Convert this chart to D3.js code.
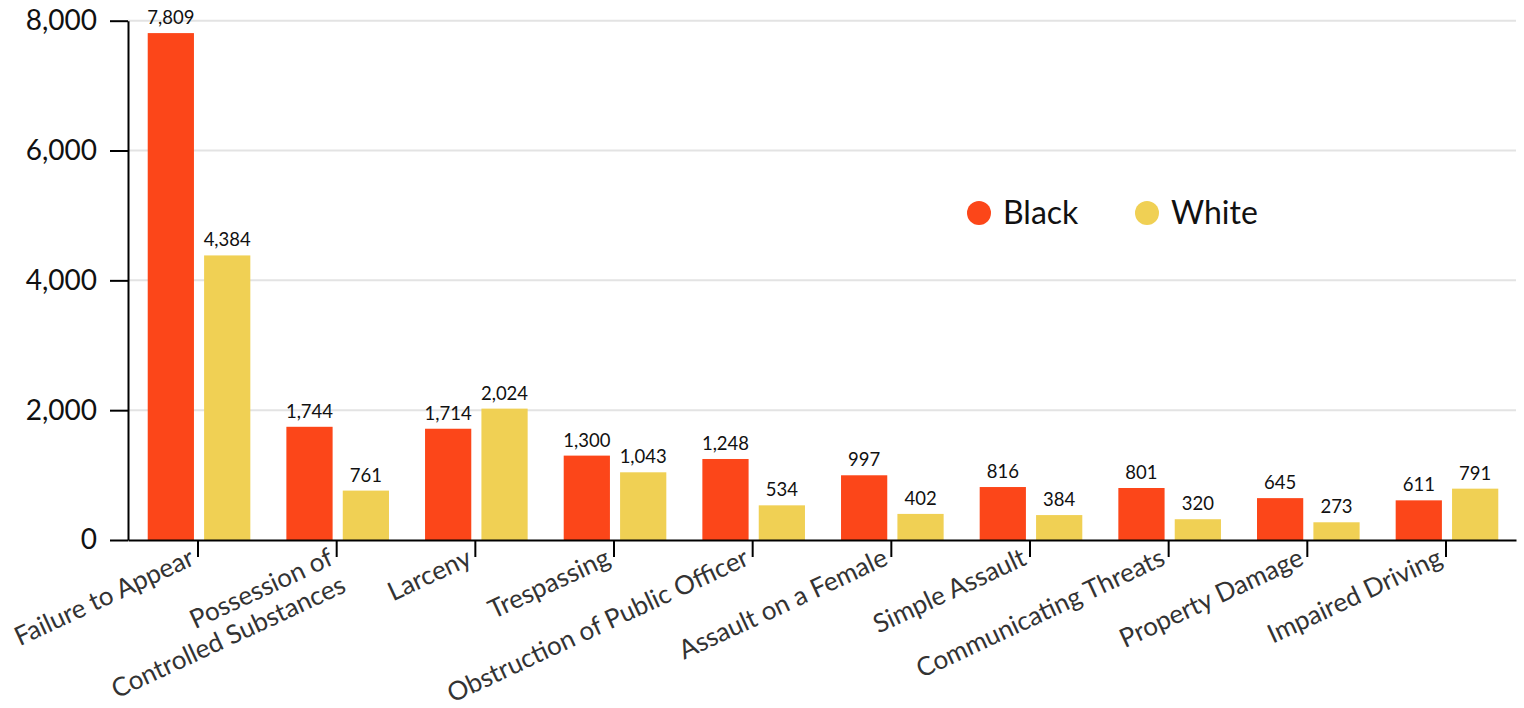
<!DOCTYPE html>
<html>
<head>
<meta charset="utf-8">
<script src="https://cdn.jsdelivr.net/npm/d3@7"></script>
<style>
  html, body { margin: 0; padding: 0; background: #fff; }
  svg { display: block; font-family: "Lato", "Noto Sans", sans-serif; }
</style>
</head>
<body>
<svg id="chart" width="1524" height="708"></svg>
<script>
const categories = [
  ["Failure to Appear"],
  ["Possession of", "Controlled Substances"],
  ["Larceny"],
  ["Trespassing"],
  ["Obstruction of Public Officer"],
  ["Assault on a Female"],
  ["Simple Assault"],
  ["Communicating Threats"],
  ["Property Damage"],
  ["Impaired Driving"]
];
const seriesNames = ["Black", "White"];
const blackValues = [7809, 1744, 1714, 1300, 1248, 997, 816, 801, 645, 611];
const whiteValues = [4384, 761, 2024, 1043, 534, 402, 384, 320, 273, 791];
const yTicks = [0, 2000, 4000, 6000, 8000];
const colors = ["#FC4619", "#F0D054"];

const svg = d3.select("#chart");
const catKeys = categories.map(c => c.join(" "));

const x = d3.scaleBand().domain(catKeys).range([128, 1516])
  .paddingInner(0.26).paddingOuter(0.135);
const xs = d3.scaleBand().domain(seriesNames).range([0, x.bandwidth()])
  .paddingInner(0.18);
const y = d3.scaleLinear().domain([0, 8000]).range([540, 20.7]);

// gridlines
svg.append("g").selectAll("line").data(yTicks.filter(d => d > 0)).join("line")
  .attr("x1", 128).attr("x2", 1516)
  .attr("y1", d => y(d)).attr("y2", d => y(d))
  .attr("stroke", "#e3e3e3").attr("stroke-width", 2);

// bars
const data = catKeys.map((k, i) => ({ key: k, values: [blackValues[i], whiteValues[i]] }));
const groups = svg.append("g").selectAll("g").data(data).join("g")
  .attr("transform", d => `translate(${x(d.key) + 1},0)`);
groups.selectAll("rect").data(d => d.values.map((v, j) => ({ s: seriesNames[j], v, j }))).join("rect")
  .attr("x", d => xs(d.s)).attr("width", xs.bandwidth())
  .attr("y", d => y(d.v)).attr("height", d => y(0) - y(d.v))
  .attr("fill", d => colors[d.j]);
groups.selectAll("text").data(d => d.values.map((v, j) => ({ s: seriesNames[j], v, j }))).join("text")
  .attr("x", d => xs(d.s) + xs.bandwidth() / 2)
  .attr("y", d => y(d.v) - 9)
  .attr("text-anchor", "middle")
  .attr("font-size", 18.5).attr("fill", "#111")
  .text(d => d3.format(",")(d.v));

// y axis
const yAxis = svg.append("g").attr("transform", "translate(128,0)")
  .call(d3.axisLeft(y).tickValues(yTicks).tickFormat(d3.format(",")).tickSize(18).tickSizeOuter(0).tickPadding(13));
yAxis.select(".domain").attr("stroke", "#000").attr("stroke-width", 2);
yAxis.selectAll(".tick line").attr("stroke", "#000").attr("stroke-width", 2);
yAxis.selectAll(".tick text").attr("font-size", 28).attr("fill", "#111").attr("font-family", "Lato");

// x axis
const xAxis = svg.append("g").attr("transform", "translate(0,540)")
  .call(d3.axisBottom(x).tickSize(17).tickSizeOuter(0).tickFormat(""));
xAxis.select(".domain").attr("stroke", "#000").attr("stroke-width", 2);
xAxis.selectAll(".tick line").attr("stroke", "#000").attr("stroke-width", 2);
xAxis.selectAll(".tick text").remove();

// x labels rotated
const lbl = svg.append("g").selectAll("text").data(categories).join("text")
  .attr("transform", (d, i) => `translate(${x(catKeys[i]) + x.bandwidth() / 2 - 2},${564}) rotate(-25)`)
  .attr("text-anchor", "end")
  .attr("font-size", 26).attr("fill", "#333");
lbl.each(function(d) {
  const t = d3.select(this);
  d.forEach((line, k) => {
    t.append("tspan").attr("x", 0).attr("dy", k === 0 ? 0 : 30).text(line);
  });
});

// legend
const legend = svg.append("g");
const legX = [979, 1147];
seriesNames.forEach((s, i) => {
  legend.append("circle").attr("cx", legX[i]).attr("cy", 213).attr("r", 12).attr("fill", colors[i]);
  legend.append("text").attr("x", legX[i] + 24).attr("y", 224)
    .attr("font-size", 32).attr("fill", "#111").text(s);
});
</script>
</body>
</html>
